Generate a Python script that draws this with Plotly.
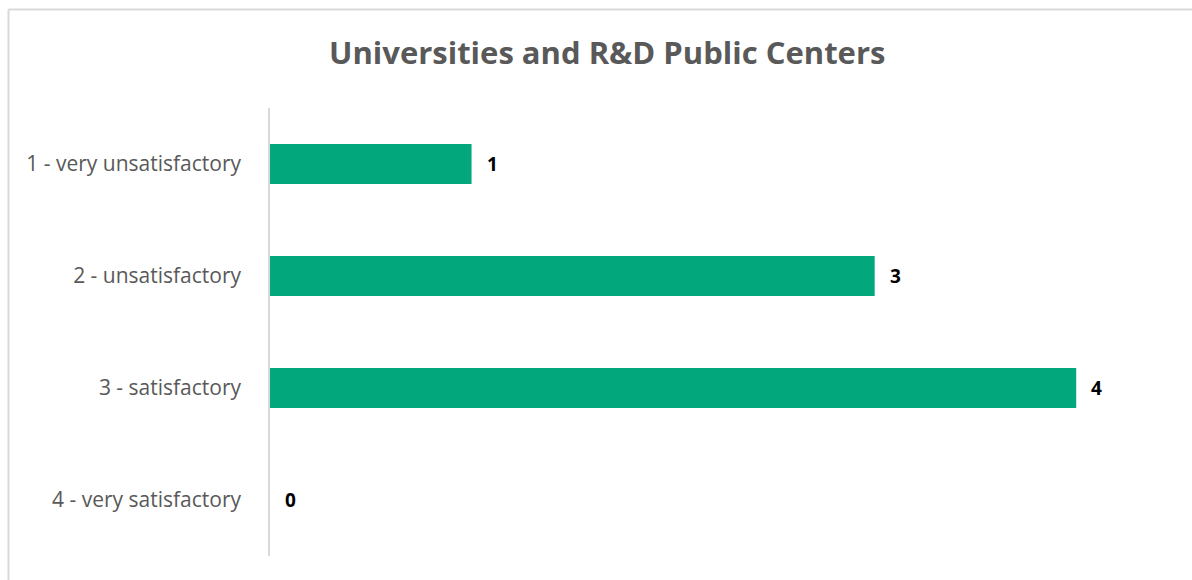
import plotly.graph_objects as go

# Survey ratings and number of responses for each
categories = ["1 - very unsatisfactory", "2 - unsatisfactory", "3 - satisfactory", "4 - very satisfactory"]
responses = [1, 3, 4, 0]
title_text = "Universities and R&D Public Centers"

W, H = 1192, 580
L, R, T, B = 270, 15, 108, 24
plot_w = W - L - R
plot_h = H - T - B

BAR_COLOR = "#02A77B"
GRID_GRAY = "#D9D9D9"
TEXT_GRAY = "#595959"
FONT = "'Open Sans', Lato, sans-serif"

fig = go.Figure(
    go.Bar(
        x=responses,
        y=categories,
        orientation="h",
        marker=dict(color=BAR_COLOR, line=dict(width=0)),
        hoverinfo="skip",
    )
)

# Value labels to the right of each bar
for cat, val in zip(categories, responses):
    fig.add_annotation(
        x=val, y=cat, xref="x", yref="y",
        text=f"<b>{val}</b>", showarrow=False,
        xanchor="left", xshift=13,
        font=dict(family=FONT, size=19, color="#000000"),
    )

# Chart title
def px_to_paper_x(px):
    return (px - L) / plot_w

def px_to_paper_y(py):
    return (H - B - py) / plot_h

fig.add_annotation(
    x=px_to_paper_x(607), y=px_to_paper_y(52), xref="paper", yref="paper",
    text=f"<b>{title_text}</b>", showarrow=False,
    xanchor="center", yanchor="middle",
    font=dict(family=FONT, size=31, color=TEXT_GRAY),
)

# Chart-area frame (top and left edges)
fig.add_shape(type="line", xref="paper", yref="paper",
              x0=px_to_paper_x(8.5), x1=px_to_paper_x(W + 5),
              y0=px_to_paper_y(9.5), y1=px_to_paper_y(9.5),
              line=dict(color=GRID_GRAY, width=2))
fig.add_shape(type="line", xref="paper", yref="paper",
              x0=px_to_paper_x(8.5), x1=px_to_paper_x(8.5),
              y0=px_to_paper_y(9.5), y1=px_to_paper_y(H + 5),
              line=dict(color=GRID_GRAY, width=2))

fig.update_layout(
    width=W, height=H,
    margin=dict(l=L, r=R, t=T, b=B),
    paper_bgcolor="white", plot_bgcolor="white",
    showlegend=False,
    bargap=0.643,
    xaxis=dict(range=[0, 4.5], visible=False, fixedrange=True),
    yaxis=dict(
        categoryorder="array", categoryarray=categories,
        autorange="reversed",
        showline=True, linecolor=GRID_GRAY, linewidth=1.5,
        showgrid=False, zeroline=False,
        ticks="", ticklabelstandoff=23,
        tickfont=dict(family=FONT, size=21, color=TEXT_GRAY),
        fixedrange=True,
    ),
)

fig.write_html("out.html")
